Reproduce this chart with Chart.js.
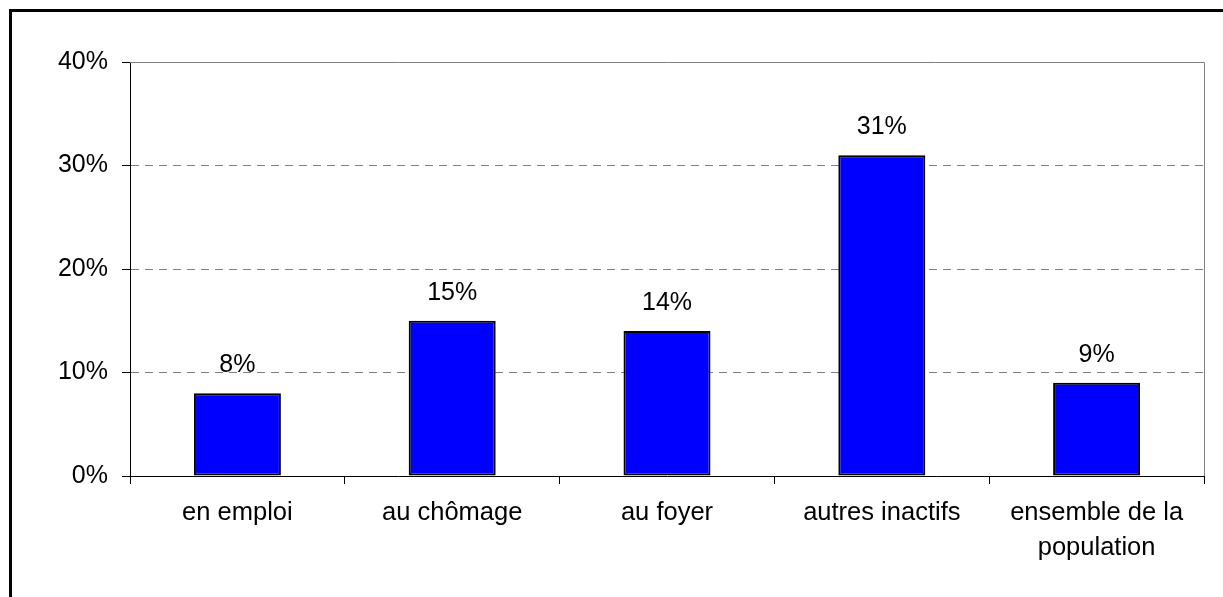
<!DOCTYPE html>
<html lang="fr">
<head>
  <meta charset="UTF-8" />
  <title>Graphique</title>
  <script src="https://cdn.jsdelivr.net/npm/chart.js"></script>
  <style>
    body { margin: 0; background: #fff; }
    #wrap { position: relative; width: 1223px; height: 597px; overflow: hidden; }
    #cadre { position: absolute; left: 9px; top: 9px; width: 1400px; height: 800px;
             border-left: 3px solid #000; border-top: 3px solid #000; }
    canvas { position: absolute; left: 0; top: 0; }
  </style>
</head>
<body>
  <div id="wrap">
    <div id="cadre"></div>
    <canvas id="graphique" width="1223" height="597"></canvas>
  </div>

  <script>
    const categories = ['en emploi', 'au chômage', 'au foyer', 'autres inactifs', ['ensemble de la', 'population']];
    const valeurs = [8, 15, 14, 31, 9];
    const yTicks = [0, 10, 20, 30, 40];

    const police = '"Liberation Sans", Arial, sans-serif';

    // étiquettes de valeur au-dessus des barres + cadre gris de la zone
    const extras = {
      id: 'extras',
      afterDatasetsDraw(chart) {
        const ctx = chart.ctx;
        const a = chart.chartArea;
        ctx.save();
        ctx.strokeStyle = '#808080';
        ctx.lineWidth = 1;
        ctx.beginPath();
        ctx.moveTo(a.left, a.top + 0.5);
        ctx.lineTo(a.right + 0.5, a.top + 0.5);
        ctx.lineTo(a.right + 0.5, a.bottom);
        ctx.stroke();

        ctx.fillStyle = '#000';
        ctx.font = '25px ' + police;
        ctx.textAlign = 'center';
        ctx.textBaseline = 'alphabetic';
        chart.getDatasetMeta(0).data.forEach((bar, i) => {
          ctx.fillText(valeurs[i] + '%', bar.x, bar.y - 21);
        });
        ctx.restore();
      }
    };

    new Chart(document.getElementById('graphique'), {
      type: 'bar',
      data: {
        labels: categories,
        datasets: [{
          data: valeurs,
          backgroundColor: '#0000ff',
          borderColor: '#000',
          borderWidth: 2,
          borderSkipped: false,
          barPercentage: 0.405,
          categoryPercentage: 1
        }]
      },
      options: {
        responsive: false,
        animation: false,
        layout: { padding: { left: 0, top: 62, right: 19, bottom: 0 } },
        plugins: { legend: { display: false }, tooltip: { enabled: false } },
        scales: {
          x: {
            afterFit: s => { s.height = 121; },
            grid: { drawOnChartArea: false, offset: true, color: '#000', tickColor: '#000', tickLength: 8 },
            border: { color: '#000', width: 1 },
            ticks: { color: '#000', font: { family: police, size: 25.5, lineHeight: 1.37 }, padding: 12, maxRotation: 0, autoSkip: false }
          },
          y: {
            min: 0,
            max: 40,
            afterFit: s => { s.width = 130; },
            afterBuildTicks: s => { s.ticks = yTicks.map(v => ({ value: v })); },
            grid: {
              color: c => (c.tick && (c.tick.value === 0 || c.tick.value === 40)) ? 'rgba(0,0,0,0)' : '#808080',
              tickColor: '#000',
              tickLength: 8,
              tickBorderDash: []
            },
            border: { color: '#000', width: 1, dash: [8, 6] },
            ticks: { color: '#000', font: { family: police, size: 25 }, padding: 14, callback: v => v + '%' }
          }
        }
      },
      plugins: [extras]
    });
  </script>
</body>
</html>
